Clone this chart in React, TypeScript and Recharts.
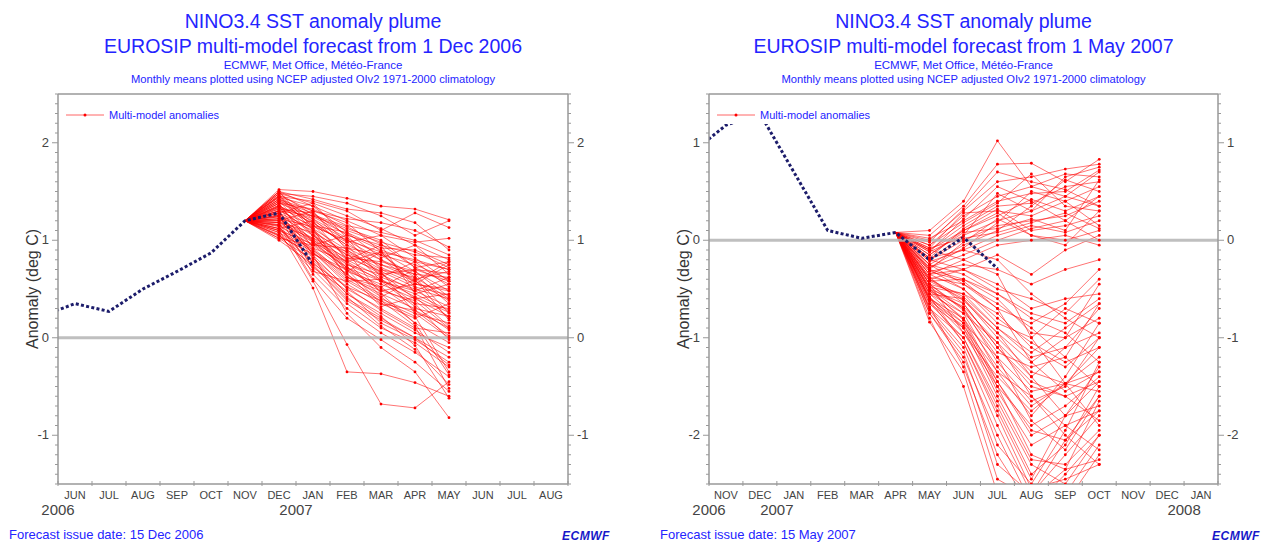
import React from 'react';
import { ComposedChart, Line, XAxis, YAxis, ReferenceLine } from 'recharts';

// ---------- forecast from 1 Dec 2006 ----------
const monthsDec = ['JUN', 'JUL', 'AUG', 'SEP', 'OCT', 'NOV', 'DEC', 'JAN', 'FEB', 'MAR', 'APR', 'MAY', 'JUN', 'JUL', 'AUG'];
const yearsDec = [{ at: 0, label: '2006' }, { at: 7, label: '2007' }];
// observed, MAY 2006 (just left of the frame) .. JAN 2007
const obsDec = [0.22, 0.35, 0.27, 0.5, 0.68, 0.87, 1.2, 1.28, 0.75];
const obsDecFirst = -1;
const fcDecFirst = 6; // first forecast month: DEC
// DEC JAN FEB MAR APR MAY
const membersDec = [
  [1.52, 1.5, 1.43, 1.35, 1.32, 1.21],
  [1.48, 1.45, 1.38, 1.25, 1.05, 1.2],
  [1.45, 1.4, 1.3, 1.1, 1.28, 1.13],
  [1.5, 1.35, 1.2, 1.05, 0.98, 1.02],
  [1.42, 1.3, 1.22, 1.18, 1.1, 0.93],
  [1.4, 1.28, 1.05, 0.95, 0.85, 0.82],
  [1.38, 1.25, 1.12, 1.0, 0.72, 0.78],
  [1.35, 1.2, 1.0, 0.88, 0.8, 0.7],
  [1.33, 1.18, 0.95, 0.8, 0.65, 0.62],
  [1.3, 1.15, 1.08, 0.92, 0.9, 0.75],
  [1.28, 1.12, 0.9, 0.7, 0.55, 0.5],
  [1.26, 1.1, 0.85, 0.75, 0.6, 0.68],
  [1.25, 1.05, 0.8, 0.62, 0.5, 0.4],
  [1.22, 1.02, 0.78, 0.58, 0.45, 0.55],
  [1.2, 1.0, 0.75, 0.65, 0.7, 0.58],
  [1.18, 0.98, 0.7, 0.5, 0.35, 0.3],
  [1.15, 0.95, 0.68, 0.55, 0.4, 0.45],
  [1.12, 0.92, 0.62, 0.45, 0.3, 0.22],
  [1.1, 0.9, 0.6, 0.4, 0.25, 0.15],
  [1.08, 0.88, 0.55, 0.35, 0.2, 0.35],
  [1.05, 0.85, 0.5, 0.3, 0.1, 0.05],
  [1.02, 0.8, 0.45, 0.25, 0.05, -0.1],
  [1.0, 0.75, 0.4, 0.2, 0.0, -0.2],
  [1.3, 0.7, 0.35, 0.1, -0.05, -0.3],
  [1.25, 0.65, 0.3, 0.05, -0.15, -0.4],
  [1.18, 0.6, 0.2, -0.02, -0.25, -0.55],
  [1.1, 0.51, -0.35, -0.37, -0.46, -0.6],
  [1.15, 0.58, -0.07, -0.68, -0.72, -0.45],
  [1.35, 0.85, 0.25, -0.1, -0.35, -0.82],
  [1.4, 1.05, 0.72, 0.48, 0.38, 0.1],
  [1.45, 1.22, 1.02, 0.85, 0.62, 0.25],
  [1.32, 1.08, 0.88, 0.68, 0.52, 0.2],
  [1.28, 1.0, 0.82, 0.78, 0.68, 0.48],
  [1.22, 0.95, 0.92, 0.85, 0.75, 0.6],
  [1.38, 1.32, 1.15, 1.08, 1.0, 0.85],
  [1.2, 0.9, 0.65, 0.42, 0.15, -0.05],
  [1.12, 0.82, 0.52, 0.28, 0.08, -0.15],
  [1.48, 1.38, 1.25, 1.12, 0.95, 0.65],
  [1.05, 0.72, 0.48, 0.15, -0.02, -0.25],
  [1.42, 1.15, 0.98, 0.72, 0.58, 0.38],
  [1.36, 1.12, 0.75, 0.6, 0.42, 0.12],
  [1.24, 0.98, 0.72, 0.52, 0.28, 0.02],
  [1.5, 1.42, 1.32, 1.28, 1.18, 0.9],
  [1.16, 0.88, 0.58, 0.38, 0.22, -0.35],
  [1.34, 1.05, 0.85, 0.65, 0.48, 0.32],
  [1.08, 0.78, 0.42, 0.12, -0.12, -0.48],
  [1.3, 1.25, 1.1, 0.98, 0.88, 0.72],
  [1.44, 1.18, 0.95, 0.58, 0.32, 0.08],
  [1.46, 1.1, 0.68, 0.88, 0.55, 0.75],
  [1.02, 0.95, 1.05, 0.7, 0.62, 0.4],
  [1.28, 1.38, 1.02, 0.62, 0.78, 0.52],
  [1.12, 1.2, 0.8, 0.95, 0.45, 0.28],
  [1.38, 0.92, 0.78, 0.42, 0.6, 0.18],
  [1.2, 1.3, 1.18, 0.88, 0.52, 0.44],
  [1.5, 1.12, 0.62, 0.52, 0.7, 0.66],
  [1.06, 0.68, 0.58, 0.6, 0.35, -0.02],
  [1.32, 1.28, 0.98, 1.05, 0.82, 0.58],
  [1.16, 1.02, 0.88, 0.45, 0.15, -0.38],
  [1.44, 1.35, 1.08, 0.82, 0.95, 0.8],
  [1.24, 0.86, 0.66, 0.32, 0.42, 0.26],
  [1.4, 1.16, 0.82, 0.68, 0.25, 0.0],
  [1.1, 0.96, 0.72, 0.58, 0.48, 0.62],
  [1.34, 1.22, 0.92, 0.75, 0.65, 0.35],
  [1.26, 0.76, 0.52, 0.38, 0.12, -0.52],
  [1.48, 1.26, 1.14, 0.96, 0.72, 0.55],
  [1.18, 1.08, 0.62, 0.48, 0.55, 0.48],
  [1.36, 0.98, 0.78, 0.88, 0.68, 0.42],
  [1.04, 0.86, 0.7, 0.35, 0.28, 0.1],
  [1.22, 1.14, 1.0, 0.8, 0.58, 0.78],
  [1.3, 0.82, 0.45, 0.22, -0.08, -0.62],
  [1.42, 1.24, 1.06, 0.9, 0.78, 0.7],
  [1.14, 0.74, 0.38, 0.18, 0.0, -0.28],
  [1.46, 1.3, 0.9, 0.66, 0.4, 0.22],
];
const yLabelsDec = [-1, 0, 1, 2];

// ---------- forecast from 1 May 2007 ----------
const monthsMay = ['NOV', 'DEC', 'JAN', 'FEB', 'MAR', 'APR', 'MAY', 'JUN', 'JUL', 'AUG', 'SEP', 'OCT', 'NOV', 'DEC', 'JAN'];
const yearsMay = [{ at: 0, label: '2006' }, { at: 2, label: '2007' }, { at: 14, label: '2008' }];
// observed, OCT 2006 (just left of the frame) .. JUL 2007
const obsMay = [0.9, 1.18, 1.3, 0.7, 0.1, 0.02, 0.08, -0.2, 0.03, -0.29];
const obsMayFirst = -1;
const fcMayFirst = 6; // first forecast month: MAY
// MAY JUN JUL AUG SEP OCT
const membersMay = [
  [0.1, 0.4, 1.02, 0.55, 0.45, 0.7],
  [0.05, 0.35, 0.78, 0.79, 0.6, 0.83],
  [0.0, 0.3, 0.6, 0.65, 0.73, 0.78],
  [-0.05, 0.25, 0.45, 0.55, 0.68, 0.65],
  [0.02, 0.2, 0.4, 0.48, 0.5, 0.72],
  [-0.1, 0.15, 0.35, 0.38, 0.55, 0.6],
  [-0.08, 0.28, 0.3, 0.25, 0.4, 0.55],
  [-0.15, 0.1, 0.25, 0.42, 0.3, 0.45],
  [-0.12, 0.05, 0.2, 0.3, 0.45, 0.35],
  [-0.2, 0.0, 0.15, 0.2, 0.25, 0.4],
  [-0.18, 0.12, 0.32, 0.1, 0.15, 0.25],
  [-0.25, -0.05, 0.1, 0.35, 0.62, 0.5],
  [-0.22, -0.1, 0.05, 0.15, 0.08, 0.2],
  [-0.3, -0.02, 0.22, 0.05, 0.0, 0.1],
  [-0.28, -0.15, 0.0, 0.12, 0.2, 0.0],
  [-0.05, 0.18, 0.38, 0.68, 0.35, 0.3],
  [-0.35, -0.2, -0.05, 0.0, 0.05, -0.05],
  [-0.15, 0.08, 0.12, 0.22, 0.1, 0.62],
  [-0.32, -0.25, -0.3, -0.45, -0.3, -0.2],
  [-0.4, -0.3, -0.5, -0.6, -0.75, -0.4],
  [-0.38, -0.45, -0.7, -0.85, -0.65, -0.3],
  [-0.45, -0.55, -0.9, -1.2, -1.1, -0.95],
  [-0.42, -0.6, -1.0, -1.35, -1.47, -1.2],
  [-0.5, -0.65, -1.1, -1.5, -1.6, -1.45],
  [-0.48, -0.7, -1.25, -1.65, -1.5, -1.0],
  [-0.55, -0.75, -1.35, -1.8, -1.4, -0.85],
  [-0.52, -0.8, -1.45, -1.95, -2.05, -1.6],
  [-0.6, -0.85, -1.55, -2.1, -1.9, -1.75],
  [-0.58, -0.9, -1.6, -2.25, -2.3, -1.95],
  [-0.65, -1.0, -1.7, -2.4, -2.1, -1.5],
  [-0.62, -1.05, -1.8, -2.55, -2.45, -2.3],
  [-0.7, -1.1, -1.9, -2.6, -2.2, -1.8],
  [-0.75, -1.2, -2.0, -2.7, -2.6, -2.1],
  [-0.68, -1.3, -2.2, -2.75, -2.4, -2.0],
  [-0.8, -1.5, -2.6, -2.8, -2.7, -2.2],
  [-0.84, -1.35, -2.45, -2.65, -2.35, -1.65],
  [-0.45, -0.95, -1.4, -1.75, -1.47, -1.35],
  [-0.35, -0.5, -0.8, -1.05, -1.25, -1.1],
  [-0.4, -0.62, -0.95, -1.4, -1.8, -1.7],
  [-0.3, -0.4, -0.6, -0.95, -1.0, -0.8],
  [-0.55, -0.85, -1.2, -1.55, -1.47, -1.55],
  [-0.25, -0.35, -0.55, -0.8, -0.95, -1.25],
  [-0.5, -0.75, -1.05, -1.6, -2.0, -2.3],
  [-0.6, -0.95, -1.5, -1.9, -1.7, -1.4],
  [-0.2, -0.3, -0.45, -0.7, -0.6, -0.55],
  [-0.72, -1.15, -2.1, -2.5, -1.95, -1.25],
  [-0.45, -0.7, -1.15, -1.3, -1.2, -0.65],
  [-0.1, -0.2, -0.35, -1.0, -1.47, -1.9],
  [-0.12, 0.22, 0.55, 0.4, 0.2, 0.45],
  [-0.02, 0.32, 0.7, 0.6, 0.52, 0.35],
  [-0.2, 0.05, 0.48, 0.3, 0.65, 0.75],
  [-0.28, -0.08, 0.18, 0.5, 0.4, 0.15],
  [-0.1, 0.1, 0.28, 0.05, -0.05, 0.3],
  [-0.35, -0.3, -0.15, -0.35, -0.1, 0.05],
  [-0.42, -0.4, -0.55, -0.75, -0.85, -0.6],
  [-0.3, -0.5, -0.85, -1.0, -0.7, -0.85],
  [-0.48, -0.55, -0.75, -1.1, -1.3, -1.0],
  [-0.55, -0.6, -0.95, -1.25, -1.0, -0.45],
  [-0.38, -0.65, -1.1, -1.45, -1.6, -1.85],
  [-0.6, -0.8, -1.3, -1.7, -1.47, -1.1],
  [-0.65, -0.9, -1.45, -2.0, -1.8, -1.3],
  [-0.45, -0.72, -1.2, -1.85, -2.15, -1.6],
  [-0.7, -1.0, -1.65, -2.3, -2.5, -2.0],
  [-0.52, -0.68, -1.05, -1.4, -1.1, -0.7],
  [-0.58, -1.05, -1.75, -2.45, -1.8, -1.45],
  [-0.25, -0.45, -0.65, -0.9, -1.2, -1.5],
  [-0.62, -0.88, -1.35, -1.6, -1.9, -2.15],
  [-0.4, -0.58, -0.9, -1.15, -0.9, -0.65],
  [-0.75, -1.25, -2.3, -2.6, -2.05, -1.75],
  [-0.32, -0.42, -0.7, -1.25, -1.55, -1.35],
  [-0.18, -0.1, -0.2, -0.55, -0.8, -1.0],
  [-0.5, -0.82, -1.5, -2.2, -2.35, -2.25],
  [-0.08, 0.02, 0.08, 0.18, 0.28, 0.12],
];
const yLabelsMay = [-2, -1, 0, 1];

const W = 639;
const H = 544;
const AXIS_W = 30;
const BLUE = '#2424ff';
const FONT = '"Liberation Sans", Arial, Helvetica, sans-serif';

function tenths(lo: number, hi: number) {
  const t: number[] = [];
  for (let i = Math.round(lo * 10); i <= Math.round(hi * 10); i++) t.push(i / 10);
  return t;
}

function buildRows(nMonths: number, obs: number[], obsFirst: number, members: number[][], fcFirst: number) {
  const rows: any[] = [];
  for (let m = obsFirst; m < nMonths; m++) {
    const row: any = { x: m + 0.5 };
    const oi = m - obsFirst;
    if (oi >= 0 && oi < obs.length) row.obs = obs[oi];
    members.forEach((vals, k) => {
      if (m === fcFirst - 1) row['m' + k] = obs[m - obsFirst];
      const fi = m - fcFirst;
      if (fi >= 0 && fi < vals.length) row['m' + k] = vals[fi];
    });
    rows.push(row);
  }
  return rows;
}

function MonthTick(props: any) {
  const { x, y, payload, months, years, step } = props;
  const i = payload.value;
  const yr = years.find((e: any) => e.at === i);
  return (
    <g>
      <line x1={x} x2={x} y1={y - 3} y2={y + 2} stroke="#999" />
      {i < months.length && (
        <text x={x + step / 2} y={y + 15} textAnchor="middle" fontSize={11} fill="#444" fontFamily={FONT}>
          {months[i]}
        </text>
      )}
      {yr && (
        <text x={x} y={y + 31} textAnchor="middle" fontSize={15} fill="#444" fontFamily={FONT}>
          {yr.label}
        </text>
      )}
    </g>
  );
}

function ValueTick(props: any) {
  const { x, y, payload, side, labels } = props;
  const v = payload.value;
  const dir = side === 'left' ? -1 : 1;
  const major = labels.some((l: number) => Math.abs(l - v) < 1e-6);
  return (
    <g>
      <line x1={x} x2={x + dir * (major ? 6 : 3)} y1={y} y2={y} stroke="#999" />
      {major && (
        <text x={x + dir * 9} y={y + 4} textAnchor={side === 'left' ? 'end' : 'start'} fontSize={13} fill="#444" fontFamily={FONT}>
          {Math.round(v)}
        </text>
      )}
    </g>
  );
}

function Plume({ p }: { p: any }) {
  const rows = buildRows(p.months.length, p.obs, p.obsFirst, p.members, p.fcFirst);
  const plotLeft = p.margin.left + AXIS_W;
  const plotW = W - p.margin.left - p.margin.right - 2 * AXIS_W;
  const step = plotW / p.months.length;
  const center = plotLeft + plotW / 2;
  const anchorX = p.fcFirst - 0.5;
  const xTicks = Array.from({ length: p.months.length + 1 }, (_, i) => i);
  const yTicks = tenths(p.domain[0], p.domain[1]);
  const dot = (d: any) => {
    if (d.cy == null || d.payload.x === anchorX) return <g key={`d${d.index}`} />;
    return <circle key={`d${d.index}`} cx={d.cx} cy={d.cy} r={1.4} fill="#ff0000" />;
  };

  return (
    <div style={{ position: 'absolute', left: p.left, top: 0, width: W, height: H, fontFamily: FONT }}>
      <div style={{ position: 'absolute', left: center - 310, width: 620, top: 8, textAlign: 'center', color: BLUE }}>
        <div style={{ fontSize: 19.5, lineHeight: '26px' }}>NINO3.4 SST anomaly plume</div>
        <div style={{ fontSize: 19.5, lineHeight: '24px' }}>{p.title}</div>
        <div style={{ fontSize: 11.5, lineHeight: '15px' }}>ECMWF, Met Office, Météo-France</div>
        <div style={{ fontSize: 11.2, lineHeight: '13px' }}>Monthly means plotted using NCEP adjusted OIv2 1971-2000 climatology</div>
      </div>

      <ComposedChart width={W} height={H} data={rows} margin={p.margin}>
        <XAxis
          dataKey="x"
          type="number"
          domain={[0, p.months.length]}
          ticks={xTicks}
          interval={0}
          allowDataOverflow
          height={30}
          tickSize={0}
          tickMargin={0}
          tickLine={false}
          axisLine={{ stroke: '#999', strokeWidth: 1.5 }}
          tick={<MonthTick months={p.months} years={p.years} step={step} />}
        />
        <YAxis
          yAxisId="l"
          type="number"
          domain={p.domain}
          ticks={yTicks}
          interval={0}
          allowDataOverflow
          width={AXIS_W}
          tickSize={0}
          tickMargin={0}
          tickLine={false}
          axisLine={{ stroke: '#999', strokeWidth: 1.5 }}
          tick={<ValueTick side="left" labels={p.yLabels} />}
        />
        <YAxis
          yAxisId="r"
          orientation="right"
          type="number"
          domain={p.domain}
          ticks={yTicks}
          interval={0}
          allowDataOverflow
          width={AXIS_W}
          tickSize={0}
          tickMargin={0}
          tickLine={false}
          axisLine={{ stroke: '#999', strokeWidth: 1.5 }}
          tick={<ValueTick side="right" labels={p.yLabels} />}
        />
        {p.members.map((_: number[], k: number) => (
          <Line
            key={k}
            yAxisId="l"
            dataKey={'m' + k}
            stroke="#ff0000"
            strokeOpacity={0.55}
            strokeWidth={1}
            dot={dot}
            activeDot={false}
            isAnimationActive={false}
            type="linear"
          />
        ))}
        <ReferenceLine yAxisId="l" y={0} stroke="#b4b4b4" strokeWidth={3} strokeOpacity={0.85} />
        <ReferenceLine yAxisId="l" y={p.domain[1]} stroke="#999" strokeWidth={1.5} />
        <Line
          yAxisId="l"
          dataKey="obs"
          stroke="#1c1c6b"
          strokeWidth={3}
          strokeDasharray="3 2.3"
          dot={false}
          activeDot={false}
          isAnimationActive={false}
          type="linear"
        />
      </ComposedChart>

      <div
        style={{
          position: 'absolute', left: plotLeft + 3, top: 105, width: 182, height: 19,
          background: '#fff', display: 'flex', alignItems: 'center',
        }}
      >
        <svg width={45} height={10} style={{ display: 'block' }}>
          <line x1={5} x2={43} y1={5} y2={5} stroke="#ff0000" strokeOpacity={0.6} strokeWidth={1} />
          <circle cx={24} cy={5} r={1.5} fill="#ff0000" />
        </svg>
        <span style={{ color: BLUE, fontSize: 11, marginLeft: 3, whiteSpace: 'nowrap' }}>Multi-model anomalies</span>
      </div>

      <div
        style={{
          position: 'absolute', left: plotLeft - 25 - 100, top: 289 - 10, width: 200, height: 20,
          textAlign: 'center', transform: 'rotate(-90deg)', fontSize: 16, lineHeight: '20px', color: '#333',
        }}
      >
        Anomaly (deg C)
      </div>

      <div style={{ position: 'absolute', left: p.footLeft, top: 527, fontSize: 13, color: BLUE, whiteSpace: 'nowrap' }}>
        {p.footer}
      </div>
      <div
        style={{
          position: 'absolute', left: plotLeft + plotW - 6, top: 529, fontSize: 12, fontWeight: 900,
          fontStyle: 'italic', color: '#1818c8', letterSpacing: 0.5,
        }}
      >
        ECMWF
      </div>
    </div>
  );
}

const panelDec = {
  left: 0,
  margin: { top: 94, right: 41, bottom: 30, left: 28 },
  months: monthsDec,
  years: yearsDec,
  obs: obsDec,
  obsFirst: obsDecFirst,
  members: membersDec,
  fcFirst: fcDecFirst,
  domain: [-1.5, 2.5],
  yLabels: yLabelsDec,
  title: 'EUROSIP multi-model forecast from 1 Dec 2006',
  footer: 'Forecast issue date: 15 Dec 2006',
  footLeft: 9,
};

const panelMay = {
  left: 639,
  margin: { top: 94, right: 30, bottom: 30, left: 40 },
  months: monthsMay,
  years: yearsMay,
  obs: obsMay,
  obsFirst: obsMayFirst,
  members: membersMay,
  fcFirst: fcMayFirst,
  domain: [-2.5, 1.5],
  yLabels: yLabelsMay,
  title: 'EUROSIP multi-model forecast from 1 May 2007',
  footer: 'Forecast issue date: 15 May 2007',
  footLeft: 21,
};

export default function App() {
  return (
    <div style={{ position: 'absolute', left: 0, top: 0, width: 1278, height: 544, background: '#fff', overflow: 'hidden' }}>
      <Plume p={panelDec} />
      <Plume p={panelMay} />
    </div>
  );
}
